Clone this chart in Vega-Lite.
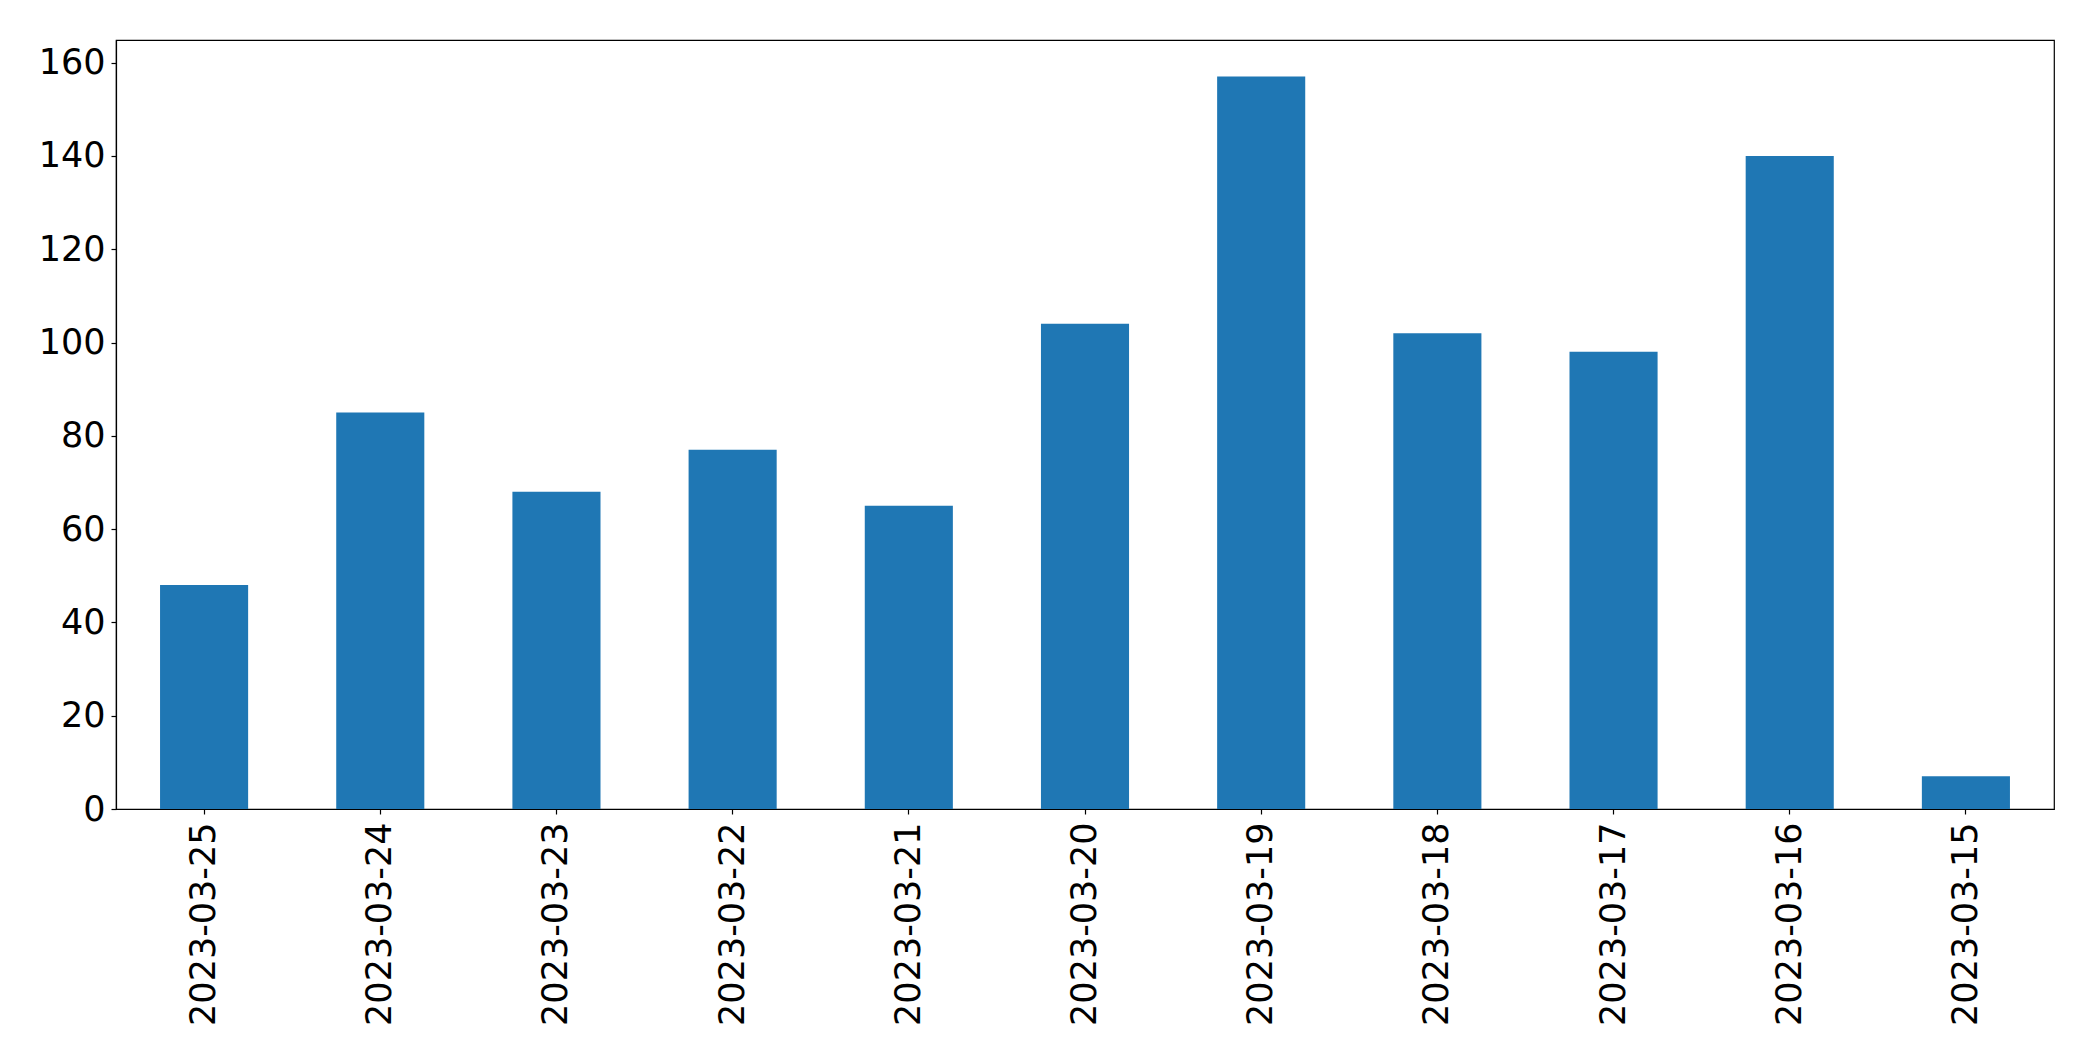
{
  "$schema": "https://vega.github.io/schema/vega-lite/v6.json",
  "autosize": {"type": "none"},
  "padding": {"left": 116, "top": 40, "right": 39, "bottom": 252},
  "width": 1938,
  "height": 769,
  "background": "white",
  "config": {
    "view": {"stroke": "black", "strokeWidth": 1.2},
    "font": "DejaVu Sans",
    "axis": {
      "labelFont": "DejaVu Sans",
      "labelFontSize": 35,
      "labelColor": "black",
      "labelLimit": 0,
      "domainColor": "black",
      "tickColor": "black",
      "tickSize": 5,
      "tickWidth": 1.2,
      "domainWidth": 1.2,
      "grid": false,
      "title": null
    }
  },
  "data": {
    "values": [
      {"date": "2023-03-25", "count": 48},
      {"date": "2023-03-24", "count": 85},
      {"date": "2023-03-23", "count": 68},
      {"date": "2023-03-22", "count": 77},
      {"date": "2023-03-21", "count": 65},
      {"date": "2023-03-20", "count": 104},
      {"date": "2023-03-19", "count": 157},
      {"date": "2023-03-18", "count": 102},
      {"date": "2023-03-17", "count": 98},
      {"date": "2023-03-16", "count": 140},
      {"date": "2023-03-15", "count": 7}
    ]
  },
  "mark": {"type": "bar", "color": "#1f77b4"},
  "encoding": {
    "x": {
      "field": "date",
      "type": "nominal",
      "sort": null,
      "scale": {"paddingInner": 0.5, "paddingOuter": 0.25},
      "axis": {"labelAngle": -90, "labelPadding": 8, "title": null}
    },
    "y": {
      "field": "count",
      "type": "quantitative",
      "scale": {"domain": [0, 164.85], "nice": false, "zero": true},
      "axis": {"values": [0, 20, 40, 60, 80, 100, 120, 140, 160], "labelPadding": 6, "title": null}
    }
  }
}
